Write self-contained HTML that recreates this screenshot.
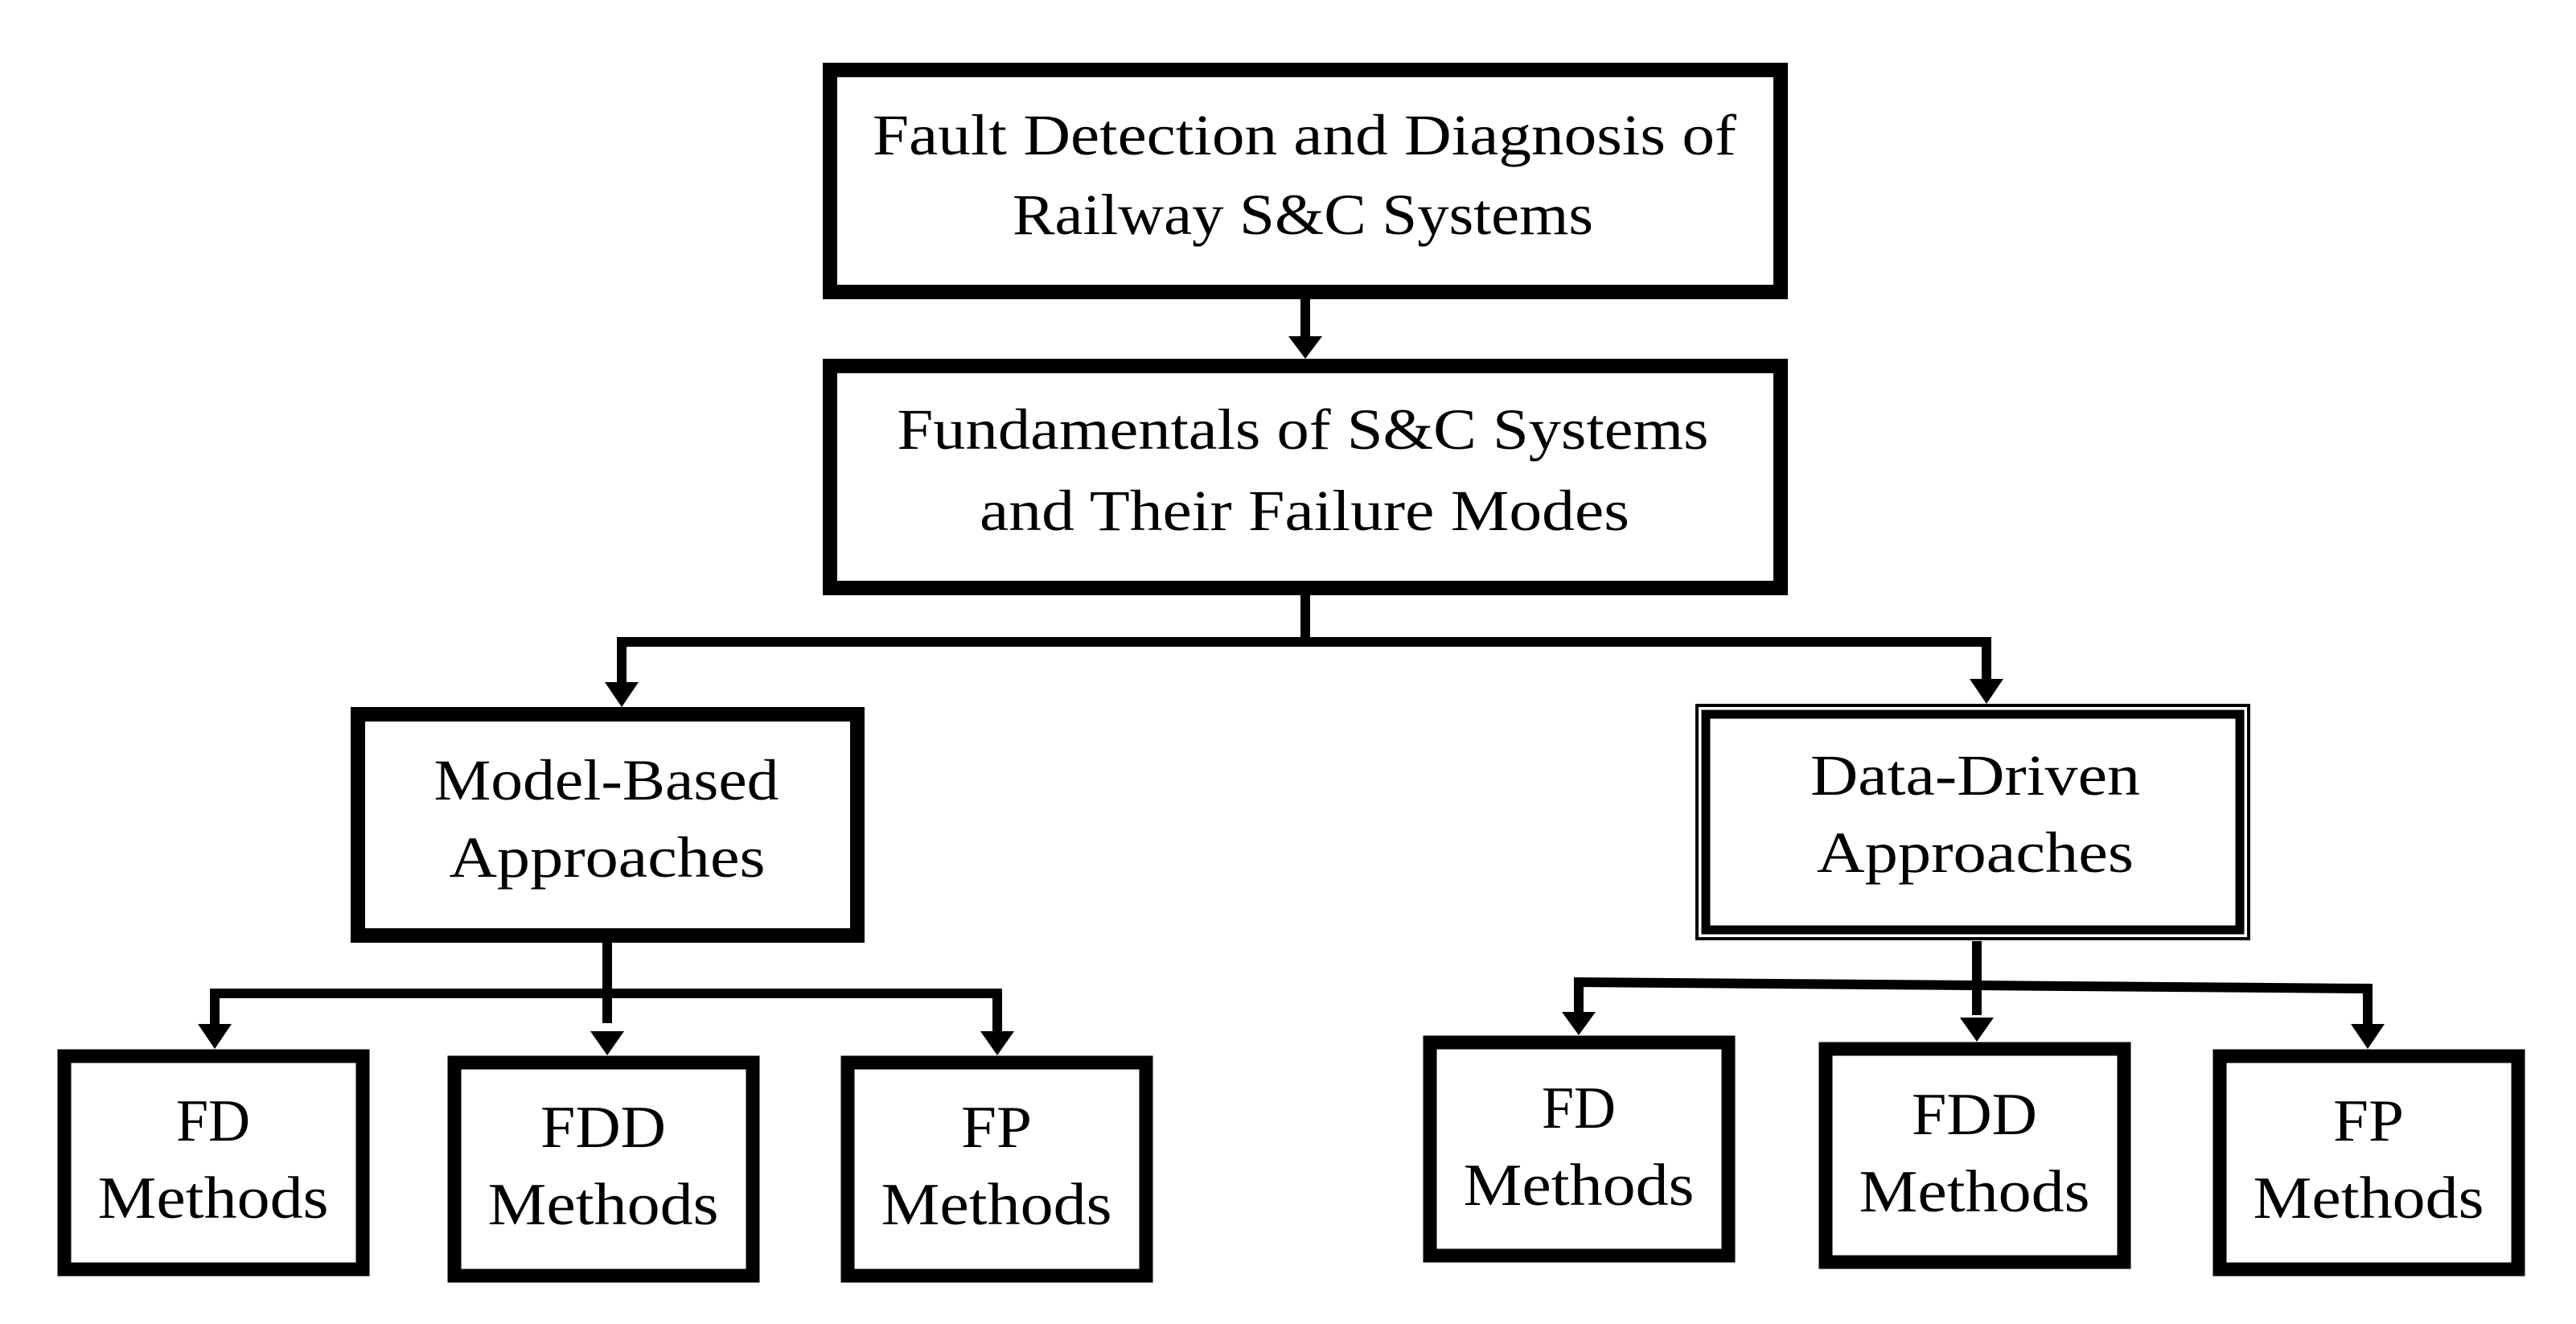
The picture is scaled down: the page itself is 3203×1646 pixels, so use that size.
<!DOCTYPE html>
<html><head><meta charset="utf-8"><style>html,body{margin:0;padding:0;background:#fff}svg{display:block}</style></head>
<body>
<svg width="3203" height="1646" viewBox="0 0 3203 1646" xmlns="http://www.w3.org/2000/svg">
<g fill="none" stroke="#000">
<rect x="1032" y="87" width="1182" height="276" stroke-width="18"/>
<rect x="1032" y="455" width="1182" height="276" stroke-width="18"/>
<rect x="445" y="888" width="621" height="275" stroke-width="18"/>
<rect x="2110" y="877" width="686" height="290" stroke-width="4"/>
<rect x="2121" y="888" width="664" height="268" stroke-width="11"/>
<rect x="80" y="1313" width="371" height="265" stroke-width="17"/>
<rect x="565" y="1321" width="371" height="265" stroke-width="17"/>
<rect x="1054" y="1321" width="371" height="265" stroke-width="17"/>
<rect x="1778" y="1296" width="371" height="265" stroke-width="17"/>
<rect x="2270" y="1304" width="371" height="265" stroke-width="17"/>
<rect x="2760" y="1313" width="371" height="265" stroke-width="17"/>
<g stroke-width="12">
<line x1="1623" y1="370" x2="1623" y2="420"/>
<line x1="1623" y1="738" x2="1623" y2="798"/>
<polyline points="773,850 773,798 2470,798 2470,846"/>
<line x1="755" y1="1170" x2="755" y2="1272"/>
<polyline points="267,1275 267,1235 1240,1235 1240,1283"/>
<line x1="2458" y1="1170" x2="2458" y2="1262"/>
<polyline points="1963,1260 1963,1221 2944,1229 2944,1275"/>
</g>
</g>
<g fill="#000">
<polygon points="1602,418 1644,418 1623,446"/>
<polygon points="752,848 794,848 773,879"/>
<polygon points="2449,844 2491,844 2470,875"/>
<polygon points="246,1273 288,1273 267,1304"/>
<polygon points="734,1282 776,1282 755,1312"/>
<polygon points="1219,1282 1261,1282 1240,1312"/>
<polygon points="1942,1258 1984,1258 1963,1287"/>
<polygon points="2437,1265 2479,1265 2458,1295"/>
<polygon points="2923,1273 2965,1273 2944,1304"/>
</g>
<g font-family="Liberation Serif, serif" font-size="72" text-anchor="middle" fill="#000">
<text x="1622" y="192" textLength="1074" lengthAdjust="spacingAndGlyphs">Fault Detection and Diagnosis of</text>
<text x="1620" y="291" textLength="722" lengthAdjust="spacingAndGlyphs">Railway S&amp;C Systems</text>
<text x="1620" y="558" textLength="1009" lengthAdjust="spacingAndGlyphs">Fundamentals of S&amp;C Systems</text>
<text x="1622" y="659" textLength="808" lengthAdjust="spacingAndGlyphs">and Their Failure Modes</text>
<text x="754" y="994" textLength="429" lengthAdjust="spacingAndGlyphs">Model-Based</text>
<text x="755" y="1090" textLength="393" lengthAdjust="spacingAndGlyphs">Approaches</text>
<text x="2456" y="988" textLength="410" lengthAdjust="spacingAndGlyphs">Data-Driven</text>
<text x="2456" y="1084" textLength="394" lengthAdjust="spacingAndGlyphs">Approaches</text>
</g>
<g font-family="Liberation Serif, serif" font-size="74" text-anchor="middle" fill="#000">
<text x="265" y="1418" textLength="92" lengthAdjust="spacingAndGlyphs">FD</text>
<text x="265" y="1514" textLength="287" lengthAdjust="spacingAndGlyphs">Methods</text>
<text x="750" y="1426" textLength="156" lengthAdjust="spacingAndGlyphs">FDD</text>
<text x="750" y="1522" textLength="287" lengthAdjust="spacingAndGlyphs">Methods</text>
<text x="1239" y="1426" textLength="88" lengthAdjust="spacingAndGlyphs">FP</text>
<text x="1239" y="1522" textLength="287" lengthAdjust="spacingAndGlyphs">Methods</text>
<text x="1963" y="1402" textLength="92" lengthAdjust="spacingAndGlyphs">FD</text>
<text x="1963" y="1498" textLength="287" lengthAdjust="spacingAndGlyphs">Methods</text>
<text x="2455" y="1410" textLength="156" lengthAdjust="spacingAndGlyphs">FDD</text>
<text x="2455" y="1506" textLength="287" lengthAdjust="spacingAndGlyphs">Methods</text>
<text x="2945" y="1418" textLength="88" lengthAdjust="spacingAndGlyphs">FP</text>
<text x="2945" y="1514" textLength="287" lengthAdjust="spacingAndGlyphs">Methods</text>
</g>
</svg>
</body></html>
